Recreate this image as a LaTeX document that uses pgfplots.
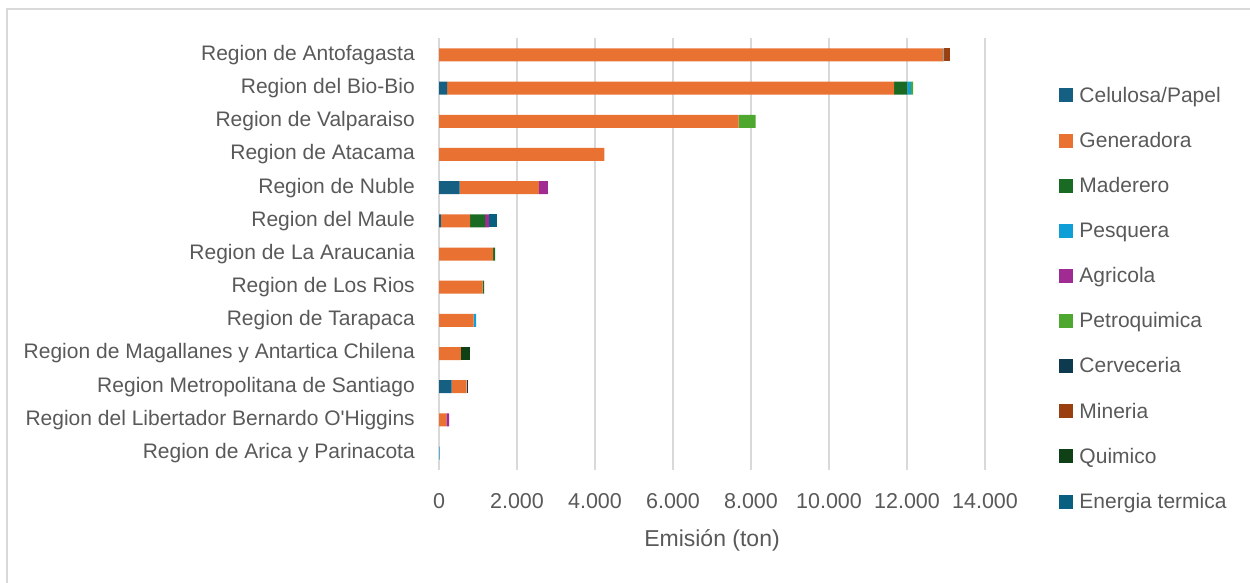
\documentclass[border=0pt]{standalone}
\usepackage{fontspec}
\setmainfont{Liberation Sans}
\usepackage{pgfplots}
\usepackage{pgfplotstable}
\pgfplotsset{compat=1.18}

\definecolor{txt}{HTML}{595959}
\definecolor{gridc}{HTML}{D9D9D9}
\definecolor{cCel}{HTML}{156082}
\definecolor{cGen}{HTML}{E97132}
\definecolor{cMad}{HTML}{196B24}
\definecolor{cPes}{HTML}{0F9ED5}
\definecolor{cAgr}{HTML}{A02B93}
\definecolor{cPet}{HTML}{4EA72E}
\definecolor{cCer}{HTML}{0D3A4E}
\definecolor{cMin}{HTML}{9A4010}
\definecolor{cQui}{HTML}{0F4016}
\definecolor{cEne}{HTML}{095F80}

% emissions (ton) per region, 12 = Antofagasta (top) ... 0 = Arica (bottom)
\pgfplotstableread{
idx cel   gen   mad pes agr pet cer min qui ene
12  0     12930 0   20  0   0   0   150 0   0
11  210   11460 340 90  0   60  0   0   0   0
10  0     7680  0   0   0   440 0   0   0   0
9   0     4240  0   0   0   0   0   0   0   0
8   530   2030  0   0   230 0   0   0   0   0
7   45    750   385 0   100 0   0   0   0   195
6   0     1390  50  0   0   0   0   0   0   0
5   0     1120  35  0   0   0   0   0   0   0
4   0     885   0   70  0   0   0   0   0   0
3   0     560   0   0   0   0   0   0   225 0
2   325   385   0   0   0   0   25  0   0   0
1   0     190   0   0   70  0   0   0   0   0
0   0     0     0   15  0   0   0   0   0   0
}\emis

\begin{document}
\begin{tikzpicture}[x=1pt,y=1pt]
\useasboundingbox (0,0) rectangle (1250,-583);
\draw[gridc, line width=1.5pt] (7,-583) -- (7,-9) -- (1250,-9);
\begin{axis}[
    at={(439pt,-469.6pt)}, anchor=south west,
    scale only axis,
    width=546pt, height=431.2pt,
    xbar stacked, bar width=13pt,
    xmin=0, xmax=14000,
    ymin=-0.5, ymax=12.5,
    axis line style={draw=none},
    major tick length=0pt,
    xmajorgrids=true,
    grid style={gridc, line width=1.4pt},
    xtick={0,2000,...,14000},
    scaled x ticks=false,
    /pgf/number format/assume math mode=true,
    /pgf/number format/1000 sep={.},
    xticklabel style={font=\fontsize{21.5}{23}\selectfont, text=txt, inner sep=0pt, yshift=-23.4pt},
    ytick={0,...,12},
    yticklabels={Region de Arica y Parinacota,
        Region del Libertador Bernardo O\textquotesingle Higgins,
        Region Metropolitana de Santiago,
        Region de Magallanes y Antartica Chilena,
        Region de Tarapaca,
        Region de Los Rios,
        Region de La Araucania,
        Region del Maule,
        Region de Nuble,
        Region de Atacama,
        Region de Valparaiso,
        Region del Bio-Bio,
        Region de Antofagasta},
    yticklabel style={font=\fontsize{21}{23}\selectfont, text=txt, inner sep=0pt, xshift=-24pt},
    xlabel={Emisión (ton)},
    xlabel style={at={(axis description cs:0.5,0)}, anchor=north, yshift=-60pt,
        inner sep=0pt, font=\fontsize{23}{25}\selectfont, text=txt},
    legend style={at={(axis description cs:1.1355,0.887)}, anchor=north west,
        draw=none, fill=none, inner sep=0pt, outer sep=0pt,
        row sep=28.5pt, column sep=6.5pt,
        nodes={inner sep=0pt, text=txt, font=\fontsize{21}{23}\selectfont}},
    legend cell align=left,
    legend image code/.code={\fill[#1] (0pt,-7pt) rectangle (14pt,7pt);},
    every axis plot/.append style={draw=none},
]
\addplot[fill=cCel] table[x=cel, y=idx] {\emis};
\addplot[fill=cGen] table[x=gen, y=idx] {\emis};
\addplot[fill=cMad] table[x=mad, y=idx] {\emis};
\addplot[fill=cPes] table[x=pes, y=idx] {\emis};
\addplot[fill=cAgr] table[x=agr, y=idx] {\emis};
\addplot[fill=cPet] table[x=pet, y=idx] {\emis};
\addplot[fill=cCer] table[x=cer, y=idx] {\emis};
\addplot[fill=cMin] table[x=min, y=idx] {\emis};
\addplot[fill=cQui] table[x=qui, y=idx] {\emis};
\addplot[fill=cEne] table[x=ene, y=idx] {\emis};
\legend{Celulosa/Papel, Generadora, Maderero, Pesquera, Agricola,
    Petroquimica, Cerveceria, Mineria, Quimico, Energia termica}
\end{axis}
\end{tikzpicture}
\end{document}
